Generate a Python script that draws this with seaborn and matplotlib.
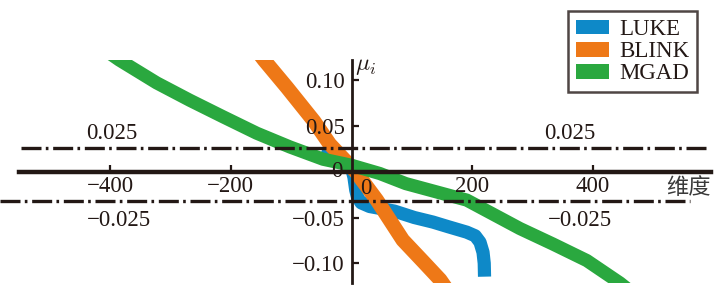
import matplotlib
matplotlib.use("Agg")
import matplotlib.pyplot as plt
import seaborn as sns
from matplotlib.patches import Rectangle, Patch

# ---------------- data ----------------
series_names = ["LUKE", "BLINK", "MGAD"]
series_colors = ["#0e89c8", "#ee7817", "#2aa83f"]

luke_dim = [-50, -30, -10, 0, 4, 7, 10, 16, 30, 71, 104, 135, 160, 191, 205, 213, 218, 220, 220.5]
luke_mu = [0.022, 0.016, 0.009, 0.004, -0.006, -0.020, -0.028, -0.034, -0.038, -0.043, -0.050,
           -0.055, -0.060, -0.066, -0.070, -0.077, -0.088, -0.100, -0.1146]

blink_dim = [-160, -145, -107, -62, -36, 7, 42, 85, 120, 147, 165]
blink_mu = [0.135, 0.122, 0.092, 0.055, 0.030, 0.000, -0.031, -0.0746, -0.099, -0.118, -0.135]

mgad_dim = [-420, -385, -323, -268, -213, -157, -102, -47, 0, 47, 90, 191, 279, 334, 390, 445, 465]
mgad_mu = [0.138, 0.122, 0.097, 0.078, 0.060, 0.042, 0.027, 0.0136, 0.007, -0.002, -0.013,
           -0.031, -0.062, -0.079, -0.097, -0.1215, -0.132]

x_ticks = [-400, -200, 200, 400]
x_tick_labels = ["\u2212400", "\u2212200", "200", "400"]
y_ticks = [-0.10, -0.05, 0.05, 0.10]
y_tick_labels = ["\u22120.10", "\u22120.05", "0.05", "0.10"]

upper_line = 0.026
lower_line = -0.032
upper_text = "0.025"
lower_text = "\u22120.025"

# ---------------- style ----------------
sns.set_style("white")
plt.rcParams["font.family"] = ["Liberation Serif", "Noto Sans CJK SC", "DejaVu Sans"]
plt.rcParams["mathtext.fontset"] = "cm"
plt.rcParams["lines.scale_dashes"] = False
ink = "#231815"

fig = plt.figure(figsize=(7.17, 2.96), dpi=100)
ax = fig.add_axes([0, 0, 1, 1])
ax.set_xlim(-582.6, 605.8)
ax.set_ylim(-0.1357, 0.18745)
ax.patch.set_alpha(0)
ax.set_axisbelow(False)

clip = Rectangle((-700, -0.1218), 1400, 0.2438, transform=ax.transData,
                 facecolor="none", edgecolor="none")

for name, xs, ys, col, lw in zip(series_names,
                                 [luke_dim, blink_dim, mgad_dim],
                                 [luke_mu, blink_mu, mgad_mu],
                                 series_colors, [9.5, 10.5, 9.5]):
    n0 = len(ax.lines)
    sns.lineplot(x=xs, y=ys, sort=False, estimator=None, color=col, lw=lw, ax=ax,
                 solid_capstyle="butt", solid_joinstyle="round", legend=False)
    for ln in ax.lines[n0:]:
        ln.set_clip_path(clip)

# threshold dash-dot lines
dd = (0, (14.4, 3.1, 1.9, 3.4))
ax.plot([-548, 589], [upper_line, upper_line], color=ink, lw=2.4, linestyle=dd,
        dash_capstyle="butt", zorder=5)
ax.plot([-583, 561], [lower_line, lower_line], color=ink, lw=2.4, linestyle=dd,
        dash_capstyle="butt", zorder=5)

# axes through origin
for s in ["top", "right"]:
    ax.spines[s].set_visible(False)
ax.spines["bottom"].set_position(("data", 0))
ax.spines["left"].set_position(("data", 0))
ax.spines["bottom"].set_bounds(-551, 596)
ax.spines["left"].set_bounds(-0.1218, 0.122)
ax.spines["bottom"].set_linewidth(3.2)
ax.spines["left"].set_linewidth(2.0)
ax.spines["bottom"].set_color(ink)
ax.spines["left"].set_color(ink)
ax.spines["bottom"].set_zorder(6)
ax.spines["left"].set_zorder(6)

ax.set_xticks(x_ticks)
ax.set_xticklabels(x_tick_labels)
ax.set_yticks(y_ticks)
ax.set_yticklabels(y_tick_labels)
ax.tick_params(axis="x", direction="in", length=5, width=1.6, colors=ink,
               labelsize=16.5, pad=3, bottom=True)
ax.tick_params(axis="y", direction="in", length=5, width=1.6, colors=ink,
               labelsize=16.5, pad=5, left=True)
ax.grid(False)

# origin labels
ax.text(-15.7, 0.0, "0", ha="right", va="center", fontsize=16.5, color=ink, zorder=7)
ax.text(24, -0.0065, "0", ha="center", va="top", fontsize=16.5, color=ink, zorder=7)

# threshold labels
ax.text(-397, 0.0357, upper_text, ha="center", va="baseline", fontsize=16.5, color=ink)
ax.text(362, 0.0357, upper_text, ha="center", va="baseline", fontsize=16.5, color=ink)
ax.text(-385, -0.0593, lower_text, ha="center", va="baseline", fontsize=16.5, color=ink)
ax.text(379, -0.0593, lower_text, ha="center", va="baseline", fontsize=16.5, color=ink)

# axis labels
ax.text(6, 0.1265, r"$\mu_i$", ha="left", va="top", fontsize=17, color=ink)
ax.text(559, -0.0172, "维度", ha="center", va="center", fontsize=16, color="#3a3a3a",
        family=["Noto Sans CJK SC", "DejaVu Sans"])

# legend
handles = [Patch(facecolor=c, edgecolor="none", label=n) for n, c in zip(series_names, series_colors)]
leg = ax.legend(handles=handles, loc="upper right", bbox_to_anchor=(697 / 717, 1 - 11 / 296),
                bbox_transform=fig.transFigure, borderaxespad=0, fontsize=16.5,
                frameon=True, fancybox=False, handlelength=1.4, handleheight=0.62,
                handletextpad=0.45, labelspacing=0.05, borderpad=0.35)
leg.get_frame().set_edgecolor(ink)
leg.get_frame().set_linewidth(1.8)
for t in leg.get_texts():
    t.set_color(ink)

fig.savefig("out.png", dpi=100)
